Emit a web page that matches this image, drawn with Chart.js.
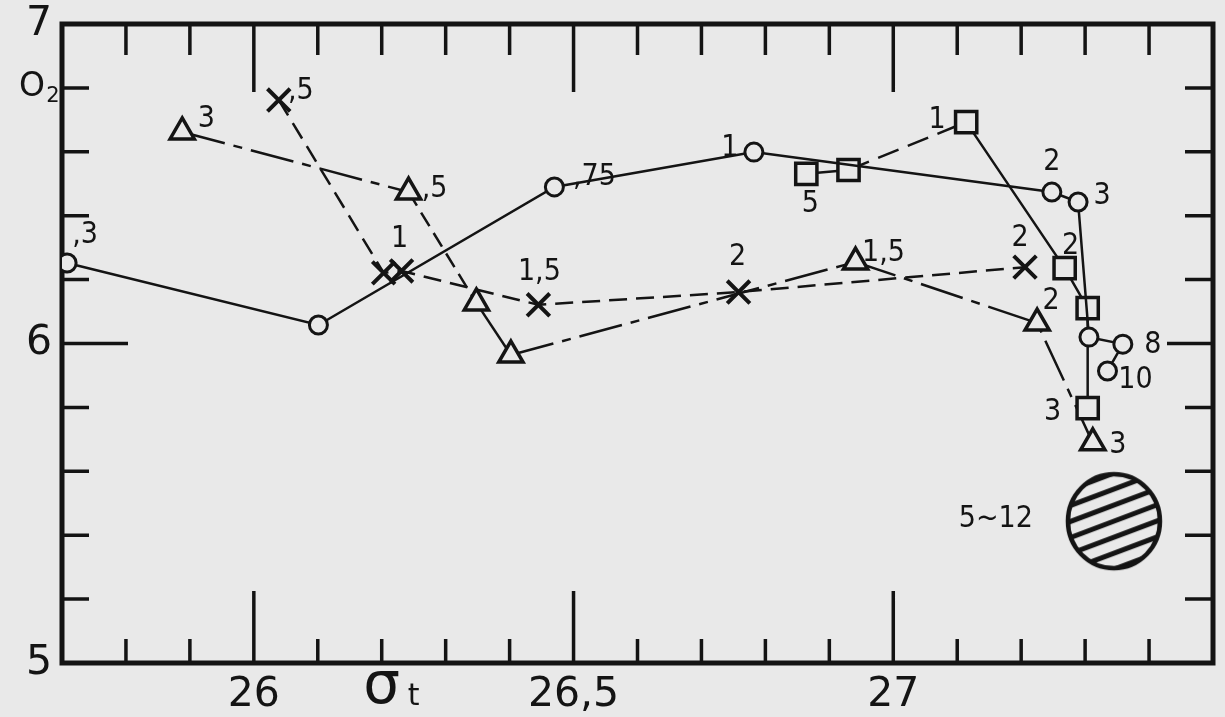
<!DOCTYPE html>
<html>
<head>
<meta charset="utf-8">
<title>O2 vs sigma-t</title>
<script src="https://cdn.jsdelivr.net/npm/chart.js@4.4.1/dist/chart.umd.min.js"></script>
<style>
  html, body { margin: 0; padding: 0; background: #e9e9e9; }
  #wrap { width: 1225px; height: 717px; }
</style>
</head>
<body>
<div id="wrap"><canvas id="chart" width="1225" height="717"></canvas></div>
<script>
// O2 against sigma-t; the little numbers beside the marks are depths as drawn
const circleX = [25.708, 26.101, 26.470, 26.782, 27.248, 27.289, 27.306, 27.359, 27.335];
const circleY = [6.252, 6.058, 6.490, 6.599, 6.474, 6.443, 6.020, 5.998, 5.914];
const circleLabels = [',3', '', ',75', '1', '2', '3', '', '8', '10'];

const squareX = [26.864, 26.930, 27.114, 27.268, 27.304, 27.304];
const squareY = [6.531, 6.543, 6.693, 6.236, 6.111, 5.798];
const squareLabels = ['5', '', '1', '2', '', '3'];

const triangleX = [25.888, 26.242, 26.348, 26.402, 26.941, 27.225, 27.312];
const triangleY = [6.662, 6.474, 6.127, 5.964, 6.255, 6.064, 5.689];
const triangleLabels = ['3', ',5', '', '', '1,5', '2', '3'];

const crossX = [26.039, 26.203, 26.231, 26.445, 26.758, 27.206];
const crossY = [6.762, 6.221, 6.227, 6.121, 6.161, 6.239];
const crossLabels = [',5', '', '1', '1,5', '2', '2'];

const blobX = [27.345];
const blobY = [5.444];
const blobLabels = ['5~12'];

// axes
const xTickValues = [25.8, 25.9, 26.0, 26.1, 26.2, 26.3, 26.4, 26.5, 26.6, 26.7, 26.8, 26.9, 27.0, 27.1, 27.2, 27.3, 27.4];
const xLabelValues = [26, 26.5, 27];
const xLabelText = ['26', '26,5', '27'];
const yTickValues = [5.0, 5.2, 5.4, 5.6, 5.8, 6.0, 6.2, 6.4, 6.6, 6.8, 7.0];
const yLabelValues = [5, 6, 7];
const yLabelText = ['5', '6', '7'];

const INK = '#141414';
const PAPER = '#e9e9e9';
const labelFont = '30px "DejaVu Sans Condensed", "DejaVu Sans", sans-serif';

// label offsets (px) from each mark
const circleOffsets = [[18, -28], [0, 0], [40, -10], [-24, -4], [0, -30], [24, -6], [0, 0], [30, 1], [28, 9]];
const squareOffsets = [[4, 30], [0, 0], [-29, -2], [6, -22], [0, 0], [-35, 4]];
const triangleOffsets = [[24, -13], [26, -3], [0, 0], [0, 0], [28, -9], [14, -22], [25, 2]];
const crossOffsets = [[22, -9], [0, 0], [-2, -32], [1, -33], [-1, -35], [-5, -29]];
const blobOffsets = [[-118, -2]];

const dashDot = [44, 9, 9, 9];
const squareSegDash = [[], [22, 10], [], [], []];
const triangleSegDash = [dashDot, [16, 8], [], dashDot, dashDot, dashDot];

function toPoints(xs, ys) {
    return xs.map((x, i) => ({ x: x, y: ys[i] }));
}

function findLabel(value, values, texts) {
    const i = values.findIndex(v => Math.abs(v - value) < 1e-6);
    return i >= 0 ? texts[i] : '';
}

// hatched disc used as a marker
function makeHatchedDisc() {
    const c = document.createElement('canvas');
    c.width = 104; c.height = 104;
    const g = c.getContext('2d');
    const cx = 52, cy = 52, r = 47;
    g.save();
    g.beginPath();
    g.ellipse(cx, cy, r - 1, r, 0, 0, Math.PI * 2);
    g.fillStyle = PAPER;
    g.fill();
    g.clip();
    g.strokeStyle = INK;
    g.lineWidth = 5;
    const ang = -0.36;
    const dx = Math.cos(ang), dy = Math.sin(ang);
    const nx = -dy, ny = dx;
    for (let k = -6; k <= 6; k++) {
        const ox = cx + nx * k * 15, oy = cy + ny * k * 15;
        g.beginPath();
        g.moveTo(ox - dx * 80, oy - dy * 80);
        g.lineTo(ox + dx * 80, oy + dy * 80);
        g.stroke();
    }
    g.restore();
    g.beginPath();
    g.ellipse(cx, cy, r - 1, r, 0, 0, Math.PI * 2);
    g.lineWidth = 4.5;
    g.strokeStyle = INK;
    g.stroke();
    return c;
}

const paper = {
    id: 'paper',
    beforeDraw(chart) {
        const ctx = chart.ctx;
        ctx.save();
        ctx.fillStyle = PAPER;
        ctx.fillRect(0, 0, chart.width, chart.height);
        ctx.restore();
    }
};

// box round the plot with ticks pointing inward on all four sides
const frame = {
    id: 'frame',
    beforeDatasetsDraw(chart) {
        const { ctx, chartArea: a, scales: { x, y } } = chart;
        ctx.save();
        ctx.strokeStyle = INK;
        ctx.lineWidth = 3.5;
        ctx.beginPath();
        x.ticks.forEach(t => {
            if (t.value <= x.min + 1e-6 || t.value >= x.max - 1e-6) return;
            const px = x.getPixelForValue(t.value);
            const major = findLabel(t.value, xLabelValues, xLabelText) !== '';
            ctx.moveTo(px, a.bottom);
            ctx.lineTo(px, a.bottom - (major ? 72 : 24));
            ctx.moveTo(px, a.top);
            ctx.lineTo(px, a.top + (major ? 68 : 31));
        });
        y.ticks.forEach(t => {
            if (t.value <= y.min + 1e-6 || t.value >= y.max - 1e-6) return;
            const py = y.getPixelForValue(t.value);
            const major = findLabel(t.value, yLabelValues, yLabelText) !== '';
            ctx.moveTo(a.left, py);
            ctx.lineTo(a.left + (major ? 66 : 27), py);
            ctx.moveTo(a.right, py);
            ctx.lineTo(a.right - (major ? 46 : 28), py);
        });
        ctx.stroke();
        ctx.lineWidth = 5;
        ctx.strokeRect(a.left, a.top, a.right - a.left, a.bottom - a.top);
        ctx.restore();
    }
};

// depth numbers beside the marks, and the two axis names
const notes = {
    id: 'notes',
    afterDatasetsDraw(chart) {
        const { ctx, chartArea: a, scales: { x, y } } = chart;
        ctx.save();
        ctx.fillStyle = INK;
        ctx.font = labelFont;
        ctx.textAlign = 'center';
        ctx.textBaseline = 'middle';
        chart.data.datasets.forEach((ds, i) => {
            if (!ds.depthLabels) return;
            const meta = chart.getDatasetMeta(i);
            meta.data.forEach((pt, j) => {
                const txt = ds.depthLabels[j];
                if (!txt) return;
                const off = ds.labelOffsets[j];
                ctx.fillText(txt, pt.x + off[0], pt.y + off[1]);
            });
        });

        // O2
        const oy = y.getPixelForValue(6.8);
        ctx.font = '33px "DejaVu Sans", sans-serif';
        ctx.fillText('O', 32, oy);
        ctx.font = '21px "DejaVu Sans", sans-serif';
        ctx.fillText('2', 53, oy + 9);

        // sigma-t
        const sx = x.getPixelForValue(26.2);
        ctx.textBaseline = 'alphabetic';
        ctx.font = '58px "DejaVu Sans", sans-serif';
        ctx.fillText('σ', sx, a.bottom + 40);
        ctx.font = '30px "DejaVu Sans", sans-serif';
        ctx.fillText('t', sx + 32, a.bottom + 42);
        ctx.restore();
    }
};

const ctx = document.getElementById('chart');
new Chart(ctx, {
    type: 'scatter',
    data: {
        datasets: [
            {
                label: 'circles',
                data: toPoints(circleX, circleY),
                depthLabels: circleLabels,
                labelOffsets: circleOffsets,
                showLine: true,
                borderColor: INK,
                borderWidth: 2.5,
                pointStyle: 'circle',
                pointRadius: 9,
                pointBorderWidth: 3,
                pointBorderColor: INK,
                pointBackgroundColor: PAPER
            },
            {
                label: 'squares',
                data: toPoints(squareX, squareY),
                depthLabels: squareLabels,
                labelOffsets: squareOffsets,
                showLine: true,
                borderColor: INK,
                borderWidth: 2.5,
                segment: {
                    borderDash: c => squareSegDash[c.p0DataIndex]
                },
                pointStyle: 'rect',
                pointRadius: 15,
                pointBorderWidth: 3.5,
                pointBorderColor: INK,
                pointBackgroundColor: PAPER
            },
            {
                label: 'triangles',
                data: toPoints(triangleX, triangleY),
                depthLabels: triangleLabels,
                labelOffsets: triangleOffsets,
                showLine: true,
                borderColor: INK,
                borderWidth: 2.5,
                segment: {
                    borderDash: c => triangleSegDash[c.p0DataIndex]
                },
                pointStyle: 'triangle',
                pointRadius: 14,
                pointBorderWidth: 3.5,
                pointBorderColor: INK,
                pointBackgroundColor: PAPER
            },
            {
                label: 'crosses',
                data: toPoints(crossX, crossY),
                depthLabels: crossLabels,
                labelOffsets: crossOffsets,
                showLine: true,
                borderColor: INK,
                borderWidth: 2.5,
                borderDash: [18, 9],
                pointStyle: 'crossRot',
                pointRadius: 16,
                pointBorderWidth: 4,
                pointBorderColor: INK
            },
            {
                label: 'deep',
                data: toPoints(blobX, blobY),
                depthLabels: blobLabels,
                labelOffsets: blobOffsets,
                showLine: false,
                pointStyle: makeHatchedDisc(),
                pointRadius: 48
            }
        ]
    },
    options: {
        responsive: false,
        devicePixelRatio: 1,
        animation: false,
        events: [],
        layout: { autoPadding: false, padding: { top: 24, right: 12, left: 0, bottom: 0 } },
        plugins: {
            legend: { display: false },
            tooltip: { enabled: false }
        },
        scales: {
            x: {
                type: 'linear',
                min: 25.7,
                max: 27.5,
                grid: { display: false, drawTicks: false },
                border: { display: false },
                afterBuildTicks: s => { s.ticks = xTickValues.map(v => ({ value: v })); },
                afterFit: s => {
                    s.height = 54;
                    s.paddingLeft = 0;
                    s.paddingRight = 0;
                },
                ticks: {
                    autoSkip: false,
                    maxRotation: 0,
                    minRotation: 0,
                    padding: 8,
                    color: INK,
                    font: { family: '"DejaVu Sans", sans-serif', size: 41 },
                    callback: v => findLabel(v, xLabelValues, xLabelText)
                }
            },
            y: {
                type: 'linear',
                min: 5,
                max: 7,
                grid: { display: false, drawTicks: false },
                border: { display: false },
                afterBuildTicks: s => { s.ticks = yTickValues.map(v => ({ value: v })); },
                afterFit: s => {
                    s.width = 62;
                    s.paddingTop = 0;
                    s.paddingBottom = 0;
                },
                ticks: {
                    autoSkip: false,
                    padding: 10,
                    color: INK,
                    font: { family: '"DejaVu Sans", sans-serif', size: 41 },
                    callback: v => findLabel(v, yLabelValues, yLabelText)
                }
            }
        }
    },
    plugins: [paper, frame, notes]
});
</script>
</body>
</html>
